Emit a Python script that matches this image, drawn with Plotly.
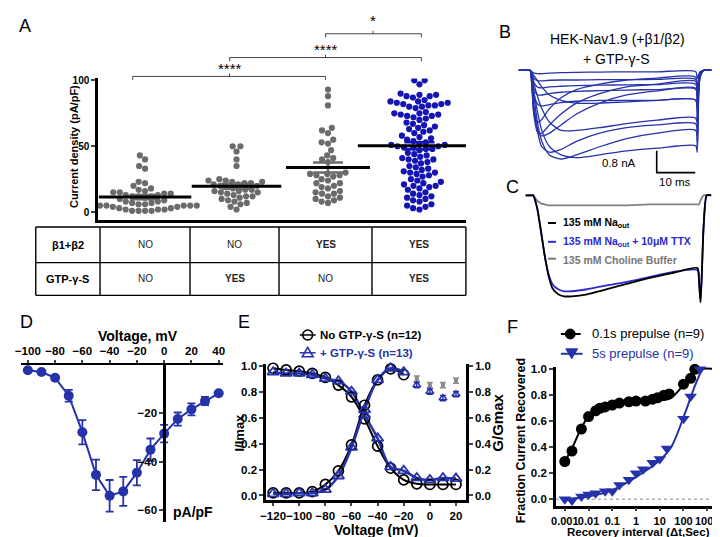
import numpy as np
import plotly.graph_objects as go

W, H = 720, 537
def PX(x): return x / W
def PY(y): return 1 - y / H

FONT = "Liberation Sans, Arial, sans-serif"
BLUE_DOT = "#1414b4"
BLUE = "#2632aa"
GREY = "#6b6b6b"

# ---------------- Panel A data ----------------
A_g1 = [43, 40, 35, 33, 23, 22, 20, 18, 17, 16, 15, 15, 14, 14, 13, 13, 12, 12, 12, 11,
        10, 9, 8, 8, 7, 7, 6, 6, 5, 5, 5, 5, 5, 5, 4, 4, 3, 3, 2, 2, 2, 1, 1, 1, 1]
A_g2 = [50, 50, 46, 40, 35, 25, 24, 24, 23, 23, 22, 22, 21, 21, 20, 20, 19, 18, 17, 17,
        16, 16, 15, 15, 14, 13, 12, 12, 11, 10, 9, 8, 7, 6, 4, 2]
A_g3 = [93, 88, 81, 64, 62, 60, 55, 53, 52, 47, 43, 41, 40, 38, 30, 29, 29, 28, 28, 27,
        25, 24, 22, 22, 20, 19, 18, 16, 15, 14, 14, 12, 11, 10, 9, 8, 7]
A_g4 = [100, 100, 97, 90, 89, 89, 88, 88, 87,
        85, 84, 84, 83, 83, 82, 82, 81, 81, 80, 80, 79,
        76, 75, 75, 74, 74, 73, 73, 72, 71, 70,
        68, 67, 66, 65, 64, 63, 62, 61, 60,
        58, 57, 56, 55, 54, 53, 52, 51, 51, 50, 50, 49, 49, 48, 48, 47,
        45, 44, 43, 42, 41, 40, 40, 39, 38, 37,
        35, 34, 33, 32, 31, 30, 30, 29, 28, 27,
        25, 24, 23, 22, 21, 20, 20, 19, 18, 17,
        15, 14, 13, 12, 11, 10, 9, 8, 6, 5, 4, 3, 2]
A_rows = ["β1+β2", "GTP-γ-S"]
A_beta = ["NO", "NO", "YES", "YES"]
A_gtp = ["NO", "YES", "NO", "YES"]

# ---------------- Panel B data (ms, nA) ----------------
B_t = [-3, -0.3, 0, 0.5, 1, 2, 3, 5, 8, 12, 18, 25, 33, 42.9, 43.3, 44, 45, 47]
B_traces = [
    [0, 0, 0, -0.05, -0.10, -0.12, -0.12, -0.10, -0.08, -0.07, -0.06, -0.05, -0.05, -0.04, -0.30, -0.05, 0, 0],
    [0, 0, 0, -0.15, -0.30, -0.38, -0.38, -0.36, -0.35, -0.35, -0.34, -0.34, -0.33, -0.33, -0.80, -0.10, 0, 0],
    [0, 0, 0, -0.20, -0.45, -0.62, -0.64, -0.60, -0.58, -0.56, -0.54, -0.53, -0.52, -0.51, -1.10, -0.10, 0, 0],
    [0, 0, 0, -0.30, -0.70, -0.90, -0.90, -0.85, -0.80, -0.77, -0.74, -0.72, -0.70, -0.69, -1.40, -0.15, 0, 0],
    [0, 0, 0, -0.40, -0.90, -1.25, -1.30, -1.25, -1.18, -1.13, -1.10, -1.10, -1.10, -1.09, -1.80, -0.20, 0, 0],
    [0, 0, 0, -0.80, -1.60, -1.90, -1.80, -1.40, -1.00, -0.70, -0.50, -0.35, -0.28, -0.25, -0.90, -0.10, 0, 0],
    [0, 0, 0, -0.70, -1.70, -2.30, -2.30, -2.00, -1.60, -1.20, -0.85, -0.60, -0.50, -0.40, -1.20, -0.10, 0, 0],
    [0, 0, 0, -0.60, -1.50, -2.20, -2.40, -2.30, -2.00, -1.60, -1.20, -0.90, -0.75, -0.65, -1.50, -0.15, 0, 0],
    [0, 0, 0, -0.50, -1.30, -2.30, -2.80, -3.00, -2.90, -2.60, -2.30, -2.10, -2.00, -1.96, -2.60, -0.20, 0, 0],
    [0, 0, 0, -0.40, -1.00, -2.00, -2.60, -3.10, -3.25, -3.10, -2.80, -2.50, -2.30, -2.20, -2.80, -0.30, 0, 0],
    [0, 0, 0, -0.30, -0.80, -1.60, -2.20, -2.80, -3.10, -3.20, -3.10, -2.95, -2.85, -2.76, -3.00, -0.30, 0, 0],
    [0, 0, 0, -0.20, -0.50, -1.00, -1.40, -1.90, -2.20, -2.20, -2.10, -1.95, -1.82, -1.75, -2.40, -0.20, 0, 0],
    [0, 0, 0, -0.10, -0.20, -0.40, -0.60, -0.90, -1.10, -1.20, -1.20, -1.15, -1.10, -1.09, -1.80, -0.20, 0, 0],
]
B_scale_t = [32.8, 32.8, 42.8]     # 10 ms
B_scale_i = [-2.95, -3.75, -3.75]  # 0.8 nA

# ---------------- Panel C data (ms, normalised current) ----------------
C_t = [-2, -0.2, 0, 1, 2, 3, 4, 5, 6.5, 8, 10, 14, 18, 24, 30, 36, 42.6, 43.0, 43.4, 44.2, 45, 46.2]
C_na = [0, 0, 0, -0.12, -0.35, -0.6, -0.8, -0.92, -0.98, -1.0, -1.0, -0.98, -0.94, -0.88, -0.82, -0.77, -0.72, -0.85, -1.06, -0.3, 0, 0]
C_ttx = [0, 0, 0, -0.12, -0.35, -0.6, -0.78, -0.88, -0.93, -0.95, -0.95, -0.93, -0.9, -0.86, -0.81, -0.76, -0.74, -0.85, -1.06, -0.3, 0, 0]
C_chol = [0, 0, 0, -0.05, -0.08, -0.09, -0.1, -0.1, -0.1, -0.1, -0.1, -0.1, -0.1, -0.1, -0.09, -0.09, -0.09, -0.09, -0.05, 0, 0, 0]

# ---------------- Panel D data ----------------
D_v = [-100, -90, -80, -70, -60, -50, -40, -30, -20, -10, 0, 10, 20, 30, 40]
D_i = [-2.3, -3.0, -5.4, -12.8, -27.8, -45.4, -54.0, -52.2, -44.5, -35.0, -28.4, -22.4, -18.4, -15.0, -11.8]
D_err = [0, 0, 0.8, 2.4, 5.0, 6.3, 6.5, 6.0, 5.2, 4.6, 3.6, 2.7, 2.5, 1.7, 0]

# ---------------- Panel E data ----------------
E_v = [-120, -110, -100, -90, -80, -70, -60, -50, -40, -30, -20, -10, 0, 10, 20]
E_inact_ctrl = [0.98, 0.967, 0.957, 0.94, 0.91, 0.85, 0.76, 0.59, 0.38, 0.21, 0.12, 0.09, 0.085, 0.085, 0.085]
E_inact_gtp = [0.95, 0.94, 0.94, 0.93, 0.9, 0.88, 0.8, 0.62, 0.44, 0.22, 0.19, 0.135, 0.12, 0.135, 0.13]
E_act_v = [-120, -110, -100, -90, -80, -70, -60, -50, -40, -30, -20]
E_act_ctrl = [0.02, 0.02, 0.02, 0.03, 0.085, 0.19, 0.39, 0.695, 0.89, 0.975, 0.93]
E_act_gtp = [0.013, 0.013, 0.018, 0.018, 0.045, 0.15, 0.37, 0.66, 0.89, 0.98, 0.95]
E_late_v = [-10, 0, 10, 20]
E_late_ctrl = [0.9, 0.85, 0.85, 0.885]
E_late_gtp = [0.85, 0.8, 0.75, 0.78]
E_late_err = [0.02, 0.02, 0.02, 0.02]

# ---------------- Panel F data ----------------
F_t_ctrl = [0.001, 0.002, 0.005, 0.01, 0.02, 0.03, 0.05, 0.1, 0.2, 0.5, 1, 2.5, 5, 8, 15, 25, 100, 200, 300]
F_y_ctrl = [0.29, 0.37, 0.54, 0.636, 0.68, 0.7, 0.71, 0.725, 0.74, 0.75, 0.755, 0.755, 0.77, 0.78, 0.8, 0.81, 0.885, 0.93, 1.0]
F_t_5s = [0.001, 0.002, 0.005, 0.01, 0.02, 0.05, 0.1, 0.2, 0.5, 1, 2, 5, 10, 20, 100, 200, 500]
F_y_5s = [0.0, -0.01, 0.02, 0.035, 0.045, 0.06, 0.06, 0.11, 0.15, 0.2, 0.23, 0.28, 0.31, 0.39, 0.62, 0.79, 1.0]
F_fit_ctrl_t = [0.001, 0.002, 0.005, 0.01, 0.02, 0.05, 0.1, 1, 10, 30, 100, 300, 3000]
F_fit_ctrl_y = [0.29, 0.39, 0.55, 0.64, 0.7, 0.73, 0.735, 0.745, 0.76, 0.78, 0.88, 0.99, 1.0]
F_fit_5s_t = [0.001, 0.01, 0.1, 1, 10, 30, 100, 300, 600]
F_fit_5s_y = [0.0, 0.02, 0.07, 0.17, 0.3, 0.4, 0.63, 0.87, 1.0]

fig = go.Figure()

# ---------------- Panel A: beeswarm ----------------
A_YPX = 1.33   # px per unit on y
A_XPX = 92.5   # px per category unit
DIAM = 6.6

def swarm(vals):
    vals = np.asarray(vals, float)
    order = np.argsort(vals)
    placed = []
    offs = np.zeros(len(vals))
    for i in order:
        y = vals[i] * A_YPX
        forb = []
        for xp, yp in placed:
            dy = abs(y - yp)
            if dy < DIAM:
                dx = np.sqrt(DIAM ** 2 - dy ** 2)
                forb.append((xp - dx, xp + dx))
        cands = [0.0] + [a for a, b in forb] + [b for a, b in forb]
        cands.sort(key=lambda c: (abs(c), c))
        for c in cands:
            if all(not (a + 1e-6 < c < b - 1e-6) for a, b in forb):
                offs[i] = c
                break
        placed.append((offs[i], y))
    return offs / A_XPX

groups = [A_g1, A_g2, A_g3, A_g4]
gcols = [GREY, GREY, GREY, BLUE_DOT]
mean_len = [66, 64, 60, 88]
for gi, (vals, col) in enumerate(zip(groups, gcols)):
    xs = gi + 1 + swarm(vals)
    fig.add_trace(go.Scatter(x=xs, y=vals, mode="markers", xaxis="x", yaxis="y",
                             marker=dict(size=6.2, color=col), showlegend=False, hoverinfo="skip"))
for gi, (vals, col) in enumerate(zip(groups, gcols)):
    m = float(np.mean(vals))
    sem = float(np.std(vals, ddof=1) / np.sqrt(len(vals)))
    fig.add_trace(go.Scatter(x=[gi + 1], y=[m], mode="markers", xaxis="x", yaxis="y",
                             marker=dict(size=1, color="rgba(0,0,0,0)"),
                             error_y=dict(type="data", array=[sem], color=col, thickness=2.5, width=15),
                             showlegend=False, hoverinfo="skip"))
    fig.add_trace(go.Scatter(x=[gi + 1], y=[m], mode="markers", xaxis="x", yaxis="y",
                             marker=dict(symbol="line-ew", size=mean_len[gi], color="black",
                                         line=dict(width=3, color="black")),
                             showlegend=False, hoverinfo="skip"))

# ---------------- Panel B ----------------
for tr in B_traces:
    fig.add_trace(go.Scatter(x=B_t, y=tr, mode="lines", xaxis="x2", yaxis="y2",
                             line=dict(color=BLUE, width=1.3, shape="spline", smoothing=0.7),
                             showlegend=False, hoverinfo="skip"))
fig.add_trace(go.Scatter(x=B_scale_t, y=B_scale_i, mode="lines", xaxis="x2", yaxis="y2",
                         line=dict(color="black", width=1.6), showlegend=False, hoverinfo="skip"))

# ---------------- Panel C ----------------
for arr, col in [(C_chol, "#808080"), (C_ttx, "#2a2ad0"), (C_na, "black")]:
    fig.add_trace(go.Scatter(x=C_t, y=arr, mode="lines", xaxis="x3", yaxis="y3",
                             line=dict(color=col, width=1.8, shape="spline", smoothing=0.6),
                             showlegend=False, hoverinfo="skip"))

# ---------------- Panel D ----------------
fig.add_trace(go.Scatter(x=D_v, y=D_i, mode="lines+markers", xaxis="x4", yaxis="y4",
                         line=dict(color=BLUE, width=2),
                         marker=dict(size=10, color=BLUE),
                         error_y=dict(type="data", array=D_err, color=BLUE, thickness=1.8, width=4),
                         showlegend=False, hoverinfo="skip", cliponaxis=False))

# ---------------- Panel E ----------------
fig.add_trace(go.Scatter(x=E_v, y=E_inact_ctrl, mode="lines", xaxis="x5", yaxis="y5",
                         line=dict(color="black", width=2, shape="spline"), showlegend=False))
fig.add_trace(go.Scatter(x=E_v, y=E_inact_gtp, mode="lines", xaxis="x5", yaxis="y5",
                         line=dict(color=BLUE, width=2.5, shape="spline"), showlegend=False))
fig.add_trace(go.Scatter(x=E_act_v, y=E_act_ctrl, mode="lines", xaxis="x5", yaxis="y6",
                         line=dict(color="black", width=2, shape="spline"), showlegend=False))
fig.add_trace(go.Scatter(x=E_act_v, y=E_act_gtp, mode="lines", xaxis="x5", yaxis="y6",
                         line=dict(color=BLUE, width=2.5, shape="spline"), showlegend=False))
for xs, ys, ya in [(E_v, E_inact_ctrl, "y5"), (E_act_v, E_act_ctrl, "y6")]:
    fig.add_trace(go.Scatter(x=xs, y=ys, mode="markers", xaxis="x5", yaxis=ya,
                             marker=dict(symbol="circle-open", size=10, color="black", line=dict(width=1.7)),
                             showlegend=False, cliponaxis=False))
for xs, ys, ya in [(E_v, E_inact_gtp, "y5"), (E_act_v, E_act_gtp, "y6")]:
    fig.add_trace(go.Scatter(x=xs, y=ys, mode="markers", xaxis="x5", yaxis=ya,
                             marker=dict(symbol="triangle-up-open", size=10, color=BLUE, line=dict(width=1.8)),
                             showlegend=False, cliponaxis=False))
fig.add_trace(go.Scatter(x=E_late_v, y=E_late_ctrl, mode="markers", xaxis="x5", yaxis="y6",
                         marker=dict(symbol="square", size=4, color="#8a8a8a"),
                         error_y=dict(type="data", array=E_late_err, color="#8a8a8a", thickness=1.5, width=3),
                         showlegend=False))
fig.add_trace(go.Scatter(x=E_late_v, y=E_late_gtp, mode="markers", xaxis="x5", yaxis="y6",
                         marker=dict(symbol="triangle-up-open", size=7, color=BLUE, line=dict(width=1.5)),
                         error_y=dict(type="data", array=E_late_err, color=BLUE, thickness=1.5, width=3),
                         showlegend=False))

# ---------------- Panel F ----------------
fig.add_trace(go.Scatter(x=F_fit_ctrl_t, y=F_fit_ctrl_y, mode="lines", xaxis="x6", yaxis="y7",
                         line=dict(color="black", width=2, shape="spline"), showlegend=False))
fig.add_trace(go.Scatter(x=F_fit_5s_t, y=F_fit_5s_y, mode="lines", xaxis="x6", yaxis="y7",
                         line=dict(color=BLUE, width=2, shape="spline"), showlegend=False))
fig.add_trace(go.Scatter(x=F_t_ctrl, y=F_y_ctrl, mode="markers", xaxis="x6", yaxis="y7",
                         marker=dict(symbol="circle", size=11, color="black"), showlegend=False, cliponaxis=False))
fig.add_trace(go.Scatter(x=F_t_5s, y=F_y_5s, mode="markers", xaxis="x6", yaxis="y7",
                         marker=dict(symbol="triangle-down", size=11, color=BLUE), showlegend=False, cliponaxis=False))

# ---------------- axes ----------------
tf = lambda s, b=True: dict(family=FONT, size=s, color="black", weight="bold" if b else "normal")
base = dict(showgrid=False, zeroline=False, tickangle=0)
ax_line = dict(showline=True, linewidth=2.5, linecolor="black", ticks="outside", ticklen=4, tickwidth=2)
frac_ticks = dict(tickvals=[0, 0.2, 0.4, 0.6, 0.8, 1.0], tickformat=".1f", tickfont=tf(11.5))
layout_axes = dict(
    xaxis=dict(**base, domain=[PX(85), PX(457)], range=[0.486, 4.508], anchor="y",
               showline=True, linewidth=2.5, linecolor="black", showticklabels=False, ticks=""),
    yaxis=dict(**base, **ax_line, domain=[PY(210), PY(67)], range=[-6, 101.5], anchor="x",
               tickvals=[0, 50, 100], tickfont=tf(10)),
    xaxis2=dict(**base, domain=[PX(510.3), PX(705.3)], range=[-3, 47], anchor="y2", visible=False),
    yaxis2=dict(**base, domain=[PY(164.9), PY(50.75)], range=[-3.85, 0.3], anchor="x2", visible=False),
    xaxis3=dict(**base, domain=[PX(517.2), PX(705.2)], range=[-2, 46.2], anchor="y3", visible=False),
    yaxis3=dict(**base, domain=[PY(297.2), PY(174.8)], range=[-1.1, 0.1], anchor="x3", visible=False),
    xaxis4=dict(**base, domain=[PX(7.1), PX(211.1)], range=[-105, 43], anchor="y4", side="top",
                showline=True, linewidth=2, linecolor="black", ticks="outside", ticklen=3, tickwidth=1.5,
                tickvals=[-100, -80, -60, -40, -20, 0, 20, 40], tickfont=tf(11.5)),
    yaxis4=dict(**base, **ax_line, domain=[PY(515.25), PY(356)], range=[-65, 0], anchor="free",
                position=PX(151.8), tickvals=[-20, -40, -60], tickfont=tf(11.5)),
    xaxis5=dict(**base, **ax_line, domain=[PX(255), PX(457)], range=[-125.3, 27.6], anchor="y5",
                tickvals=[-120, -100, -80, -60, -40, -20, 0, 20], tickfont=tf(11.5)),
    yaxis5=dict(**base, **ax_line, **frac_ticks, domain=[PY(493), PY(355)], range=[-0.038, 1.015], anchor="x5"),
    yaxis6=dict(**base, **ax_line, **frac_ticks, range=[-0.038, 1.015], anchor="x5", overlaying="y5", side="right"),
    xaxis6=dict(**base, **ax_line, type="log", domain=[PX(548), PX(713)], range=[-3.375, 3.5], anchor="y7",
                tickvals=[0.001, 0.01, 0.1, 1, 10, 100, 1000],
                ticktext=["0.001", "0.01", "0.1", "1", "10", "100", "1000"], tickfont=tf(11)),
    yaxis7=dict(**base, **ax_line, **frac_ticks, domain=[PY(498.3), PY(358)], range=[-0.05, 1.02], anchor="x6"),
)
layout_axes["xaxis6"]["ticklen"] = 3
layout_axes["xaxis5"]["ticklen"] = 3

# ---------------- annotations ----------------
def ann(x, y, text, size, color="black", bold=False, xanchor="center", angle=0):
    return dict(x=PX(x), y=PY(y), xref="paper", yref="paper", showarrow=False,
                text=f"<b>{text}</b>" if bold else text, textangle=angle,
                font=dict(family=FONT, size=size, color=color), xanchor=xanchor, yanchor="middle")

anns = []
for lab, x, y in [("A", 11, 14), ("B", 497, 20), ("C", 504, 177), ("D", 13, 313), ("E", 233, 313), ("F", 504, 318)]:
    anns.append(ann(x, y, lab, 18))
anns.append(ann(60, 136, "Current density (pA/pF)", 11, bold=True, angle=-90))
anns += [ann(218, 57, "****", 15), ann(315, 38, "****", 15), ann(363, 9, "*", 15)]

col_x = [22, 87, 178, 268, 362, 457]
row_y = [217, 253, 286]
col_c = [(col_x[i] + col_x[i + 1]) / 2 for i in range(5)]
row_c = [(row_y[0] + row_y[1]) / 2, (row_y[1] + row_y[2]) / 2]
for r, (name, vals) in enumerate(zip(A_rows, [A_beta, A_gtp])):
    anns.append(ann(col_c[0], row_c[r], name, 11, bold=True))
    for c, v in enumerate(vals):
        anns.append(ann(col_c[c + 1], row_c[r], v, 10, color="#222", bold=(v == "YES")))

anns += [ann(610, 27, "HEK-Nav1.9 (+β1/β2)", 14), ann(609, 47, "+ GTP-γ-S", 14),
         ann(612, 152, "0.8 nA", 11.5), ann(668, 172, "10 ms", 11.5)]
anns += [ann(553, 213, "135 mM Na<sub>out</sub>", 10.5, bold=True, xanchor="left"),
         ann(553, 232, "135 mM Na<sub>out</sub> + 10μM TTX", 10.5, color="#2a2ad0", bold=True, xanchor="left"),
         ann(553, 250, "135 mM Choline Buffer", 10.5, color="#777", bold=True, xanchor="left")]
anns += [ann(125, 327, "Voltage, mV", 14, bold=True), ann(181, 505, "pA/pF", 14, bold=True)]
anns += [ann(367, 523, "Voltage (mV)", 14, bold=True), ann(228, 424, "I/Imax", 13, bold=True, angle=-90),
         ann(489, 415, "G/Gmax", 15, bold=True, angle=-90),
         ann(307, 326, "No GTP-γ-S (n=12)", 11.5, bold=True, xanchor="left"),
         ann(307, 344, "+ GTP-γ-S (n=13)", 11.5, color=BLUE, bold=True, xanchor="left")]
anns += [ann(513, 433, "Fraction Current Recovered", 12.5, bold=True, angle=-90),
         ann(632, 525, "Recovery interval (Δt,Sec)", 11.5, bold=True),
         ann(582, 325, "0.1s prepulse (n=9)", 13, xanchor="left"),
         ann(582, 345, "5s prepulse (n=9)", 13, color=BLUE, xanchor="left")]

# ---------------- shapes ----------------
def line(x0, y0, x1, y1, color="black", width=1.3, dash=None):
    return dict(type="line", xref="paper", yref="paper", x0=PX(x0), y0=PY(y0), x1=PX(x1), y1=PY(y1),
                line=dict(color=color, width=width, dash=dash))

def path(points, color="black", width=1.0, fill=None, closed=False):
    s = "M" + " L".join(f"{PX(x):.5f},{PY(y):.5f}" for x, y in points) + (" Z" if closed else "")
    d = dict(type="path", xref="paper", yref="paper", path=s, line=dict(color=color, width=width))
    if fill:
        d["fillcolor"] = fill
    return d

shapes = []
for y in row_y:
    shapes.append(line(col_x[0], y, col_x[-1], y, width=1.4))
for x in col_x:
    shapes.append(line(x, row_y[0], x, row_y[-1], width=1.4))
for x0, x1, y, xc in [(120, 315, 65, 218), (218, 412, 46, 315), (315, 412, 22, 363)]:
    shapes.append(path([(x0, y + 3.5), (x0, y), (x1, y), (x1, y + 3.5)], color="#444", width=1))
    shapes.append(line(xc, y, xc, y - 3, color="#444", width=1))
for y, c in [(213, "black"), (232, "#2a2ad0"), (249, "#777")]:
    shapes.append(line(540, y, 548, y, color=c, width=2))
shapes.append(line(289, 326, 305, 326, color="black", width=1.5))
shapes.append(dict(type="circle", xref="paper", yref="paper", x0=PX(292), x1=PX(302), y0=PY(331), y1=PY(321),
                   line=dict(color="black", width=1.6)))
shapes.append(line(289, 344, 305, 344, color=BLUE, width=1.5))
shapes.append(path([(297, 338.5), (302.5, 348), (291.5, 348)], color=BLUE, width=1.6, closed=True))
shapes.append(line(553, 325, 573, 325, color="black", width=2))
shapes.append(dict(type="circle", xref="paper", yref="paper", x0=PX(557.5), x1=PX(567.5), y0=PY(330), y1=PY(320),
                   line=dict(color="black", width=1), fillcolor="black"))
shapes.append(line(553, 345, 575, 345, color=BLUE, width=2))
shapes.append(path([(558, 340), (570, 340), (564, 350)], color=BLUE, width=1, fill=BLUE, closed=True))
shapes.append(dict(type="line", xref="x6 domain", yref="y7", x0=0, x1=1, y0=0, y1=0,
                   line=dict(color="#888", width=1, dash="dot"), layer="below"))

fig.update_layout(width=W, height=H, margin=dict(l=0, r=0, t=0, b=0),
                  paper_bgcolor="white", plot_bgcolor="rgba(0,0,0,0)",
                  showlegend=False, annotations=anns, shapes=shapes,
                  font=dict(family=FONT, color="black"), **layout_axes)

fig.write_html("out.html")
